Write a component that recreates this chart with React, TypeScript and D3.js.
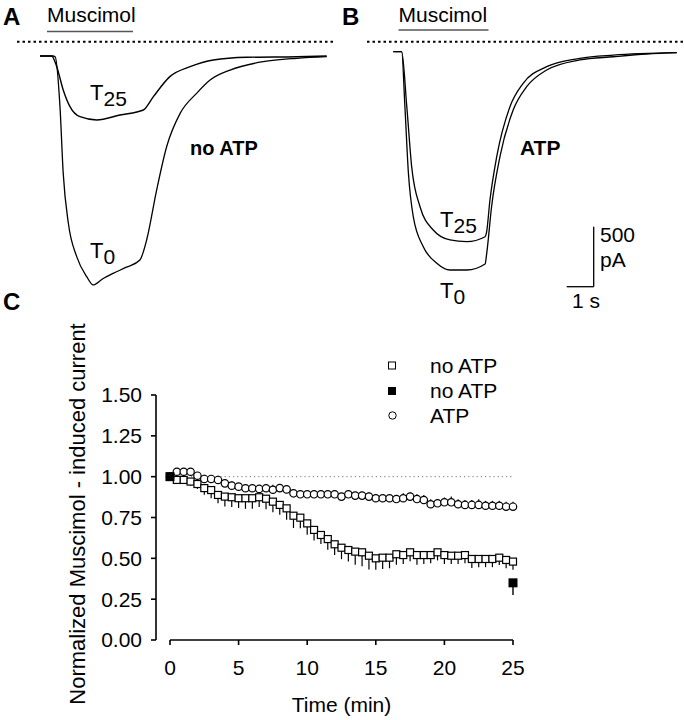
import * as d3 from 'd3';

const FONT = '"Liberation Sans", Arial, Helvetica, sans-serif';
const W = 684;
const H = 720;

// ---- panel A / B current traces (time in s, current in pA) ----
const aT0Time = [0, 0.48, 0.56, 0.74, 0.86, 1.05, 1.36, 1.73, 1.97, 2.3, 2.71, 3.2, 3.7, 3.95, 4.32, 4.69, 5.19, 5.8, 6.3, 7.04, 8.27, 9.51, 10.62];
const aT0Current = [0, 0, -6, -422, -978, -1394, -1672, -1839, -1908, -1860, -1811, -1760, -1700, -1533, -1117, -756, -478, -311, -200, -117, -47, -19, -6];
const aT25Time = [0, 0.43, 0.62, 0.86, 1.11, 1.48, 2.1, 2.96, 3.83, 4.2, 4.81, 5.56, 6.42, 7.66, 9.51, 10.62];
const aT25Current = [0, 0, -89, -283, -422, -506, -533, -492, -450, -339, -172, -89, -33, -11, -6, 0];

const bT0Time = [0, 0.31, 0.43, 0.56, 0.74, 1.11, 1.61, 2.1, 2.72, 3.4, 3.46, 3.64, 3.95, 4.44, 4.94, 5.68, 6.91, 8.15, 9.39, 10.5];
const bT0Current = [0, 0, -458, -1013, -1375, -1625, -1763, -1819, -1819, -1769, -1680, -1292, -875, -486, -292, -153, -69, -42, -19, -8];
const bT25Time = [0, 0.31, 0.5, 0.68, 0.99, 1.48, 2.1, 2.72, 3.4, 3.45, 3.58, 3.83, 4.32, 4.81, 5.68, 6.91, 8.15, 10.5];
const bT25Current = [0, 0, -458, -958, -1292, -1486, -1569, -1583, -1542, -1510, -1236, -875, -458, -263, -125, -55, -28, -8];

// ---- panel C (normalized current vs time) ----
const timeMin = [0, 0.5, 1, 1.5, 2, 2.5, 3, 3.5, 4, 4.5, 5, 5.5, 6, 6.5, 7, 7.5, 8, 8.5, 9, 9.5, 10, 10.5, 11, 11.5, 12, 12.5, 13, 13.5, 14, 14.5, 15, 15.5, 16, 16.5, 17, 17.5, 18, 18.5, 19, 19.5, 20, 20.5, 21, 21.5, 22, 22.5, 23, 23.5, 24, 24.5, 25];
const noAtpMean = [1.0, 0.98, 0.98, 0.97, 0.955, 0.93, 0.918, 0.888, 0.878, 0.874, 0.868, 0.868, 0.868, 0.874, 0.865, 0.847, 0.827, 0.806, 0.761, 0.749, 0.714, 0.674, 0.643, 0.618, 0.586, 0.565, 0.551, 0.541, 0.537, 0.516, 0.5, 0.504, 0.504, 0.525, 0.52, 0.537, 0.52, 0.52, 0.52, 0.537, 0.52, 0.516, 0.516, 0.52, 0.496, 0.496, 0.496, 0.496, 0.504, 0.49, 0.48];
const noAtpSem = [0, 0.02, 0.02, 0.025, 0.03, 0.04, 0.05, 0.05, 0.06, 0.06, 0.06, 0.065, 0.065, 0.06, 0.065, 0.065, 0.06, 0.07, 0.075, 0.065, 0.07, 0.065, 0.055, 0.065, 0.065, 0.07, 0.07, 0.08, 0.085, 0.085, 0.07, 0.07, 0.065, 0.065, 0.055, 0.055, 0.06, 0.055, 0.05, 0.05, 0.055, 0.05, 0.05, 0.05, 0.055, 0.05, 0.05, 0.05, 0.045, 0.05, 0.05];
const atpMean = [1.0, 1.03, 1.03, 1.03, 1.006, 0.986, 0.986, 0.98, 0.959, 0.945, 0.939, 0.929, 0.929, 0.925, 0.929, 0.92, 0.93, 0.922, 0.898, 0.892, 0.892, 0.892, 0.892, 0.892, 0.892, 0.878, 0.892, 0.884, 0.884, 0.878, 0.868, 0.868, 0.868, 0.863, 0.868, 0.878, 0.863, 0.857, 0.831, 0.837, 0.843, 0.843, 0.831, 0.827, 0.827, 0.827, 0.822, 0.822, 0.822, 0.816, 0.816];
const atpSem = [0, 0.02, 0.02, 0.02, 0.02, 0.025, 0.02, 0.025, 0.02, 0.025, 0.02, 0.025, 0.02, 0.02, 0.025, 0.03, 0.025, 0.02, 0.025, 0.02, 0.02, 0.025, 0.02, 0.02, 0.025, 0.02, 0.025, 0.02, 0.02, 0.025, 0.025, 0.02, 0.02, 0.025, 0.03, 0.025, 0.03, 0.03, 0.03, 0.025, 0.03, 0.035, 0.03, 0.03, 0.03, 0.035, 0.03, 0.03, 0.03, 0.03, 0.03];
const filledTime = [0, 25];
const filledMean = [1.0, 0.35];
const filledSem = [0, 0.075];

const yTickValues = [0, 0.25, 0.5, 0.75, 1.0, 1.25, 1.5];
const xTickValues = [0, 5, 10, 15, 20, 25];
const legendLabels = ['no ATP', 'no ATP', 'ATP'];

// trace scales: 27 px per s, 60 px per 500 pA
const xA = d3.scaleLinear().domain([0, 1]).range([40, 67]);
const yA = d3.scaleLinear().domain([0, -500]).range([56, 116]);
const xB = d3.scaleLinear().domain([0, 1]).range([393.3, 420.3]);
const yB = d3.scaleLinear().domain([0, -500]).range([51.7, 111.7]);

const x = d3.scaleLinear().domain([0, 25]).range([170, 513]);
const y = d3.scaleLinear().domain([0, 1.5]).range([640, 395]);
const Y_AXIS_X = 156;

const tracePath = (xs: d3.ScaleLinear<number, number>, ys: d3.ScaleLinear<number, number>, t: number[], c: number[]) =>
  d3
    .line<number>()
    .x((_, i) => xs(t[i]))
    .y((d) => ys(d))
    .curve(d3.curveMonotoneX)(c) ?? '';

const TLabel = ({ x0, y0, sub }: { x0: number; y0: number; sub: string }) => (
  <text x={x0} y={y0} fontSize={22} fontFamily={FONT}>
    T
    <tspan dy={6} fontSize={21}>
      {sub}
    </tspan>
  </text>
);

export default function App() {
  const sq = 7;
  const big = 9;
  const r = 3.7;

  return (
    <svg width={W} height={H} style={{ position: 'absolute', left: 0, top: 0, background: '#fff' }}>
      <rect width={W} height={H} fill="#fff" />

      {/* ---------- panel A ---------- */}
      <text x={3} y={25} fontSize={24} fontWeight="bold" fontFamily={FONT}>A</text>
      <text x={47} y={22} fontSize={21} fontFamily={FONT}>Muscimol</text>
      <line x1={47} x2={133} y1={31.5} y2={31.5} stroke="#555" strokeWidth={1.5} />
      <line x1={17} x2={334} y1={41.7} y2={41.7} stroke="#000" strokeWidth={2} strokeDasharray="2.5 3" />
      <path d={tracePath(xA, yA, aT25Time, aT25Current)} fill="none" stroke="#000" strokeWidth={1.4} />
      <path d={tracePath(xA, yA, aT0Time, aT0Current)} fill="none" stroke="#000" strokeWidth={1.3} />
      <TLabel x0={90} y0={100} sub="25" />
      <TLabel x0={90} y0={258} sub="0" />
      <text x={190} y={155} fontSize={20} fontWeight="bold" fontFamily={FONT}>no ATP</text>

      {/* ---------- panel B ---------- */}
      <text x={342} y={25} fontSize={24} fontWeight="bold" fontFamily={FONT}>B</text>
      <text x={398.5} y={22} fontSize={21} fontFamily={FONT}>Muscimol</text>
      <line x1={398.5} x2={488.5} y1={30} y2={30} stroke="#555" strokeWidth={1.5} />
      <line x1={367} x2={684} y1={41.7} y2={41.7} stroke="#000" strokeWidth={2} strokeDasharray="2.5 3" />
      <path d={tracePath(xB, yB, bT25Time, bT25Current)} fill="none" stroke="#000" strokeWidth={1.3} />
      <path d={tracePath(xB, yB, bT0Time, bT0Current)} fill="none" stroke="#000" strokeWidth={1.3} />
      <TLabel x0={440} y0={227} sub="25" />
      <TLabel x0={440} y0={298} sub="0" />
      <text x={520} y={155} fontSize={21} fontWeight="bold" fontFamily={FONT}>ATP</text>

      {/* scale bar */}
      <g stroke="#000" strokeWidth={1.3} fill="none">
        <line x1={593.7} x2={593.7} y1={286.7 - (yB(-500) - yB(0))} y2={286.7} />
        <line x1={593.7 - (xB(1) - xB(0))} x2={593.7} y1={286.7} y2={286.7} />
      </g>
      <text x={600} y={241.5} fontSize={21} fontFamily={FONT}>500</text>
      <text x={600} y={267} fontSize={21} fontFamily={FONT}>pA</text>
      <text x={572} y={308} fontSize={21} fontFamily={FONT}>1 s</text>

      {/* ---------- panel C ---------- */}
      <text x={3} y={310} fontSize={24} fontWeight="bold" fontFamily={FONT}>C</text>

      {/* axes */}
      <g stroke="#000" strokeWidth={1.6}>
        <line x1={Y_AXIS_X} x2={Y_AXIS_X} y1={y(1.5)} y2={y(0)} />
        {yTickValues.map((v) => (
          <line key={v} x1={Y_AXIS_X - 5} x2={Y_AXIS_X} y1={y(v)} y2={y(v)} />
        ))}
        <line x1={x(0)} x2={x(25)} y1={y(0)} y2={y(0)} />
        {xTickValues.map((v) => (
          <line key={v} x1={x(v)} x2={x(v)} y1={y(0)} y2={y(0) + 5} />
        ))}
      </g>
      {yTickValues.map((v) => (
        <text key={v} x={Y_AXIS_X - 14} y={y(v)} dy="0.35em" textAnchor="end" fontSize={21} fontFamily={FONT}>
          {d3.format('.2f')(v)}
        </text>
      ))}
      {xTickValues.map((v) => (
        <text key={v} x={x(v)} y={675} textAnchor="middle" fontSize={21} fontFamily={FONT}>
          {v}
        </text>
      ))}
      <text x={(x(0) + x(25)) / 2} y={712} textAnchor="middle" fontSize={21} fontFamily={FONT}>Time (min)</text>
      <text transform={`translate(85, 514) rotate(-90)`} textAnchor="middle" fontSize={22} fontFamily={FONT}>
        Normalized Muscimol - induced current
      </text>

      {/* reference line at 1.0 */}
      <line x1={x(0)} x2={x(25)} y1={y(1)} y2={y(1)} stroke="#777" strokeWidth={1} strokeDasharray="1.2 3" />

      {/* no ATP open squares */}
      <g stroke="#000" strokeWidth={1.2}>
        {timeMin.map((t, i) => (
          <line key={i} x1={x(t)} x2={x(t)} y1={y(noAtpMean[i])} y2={y(noAtpMean[i] - noAtpSem[i])} />
        ))}
      </g>
      <g stroke="#000" strokeWidth={1.2} fill="#fff">
        {timeMin.map((t, i) => (
          <rect key={i} x={x(t) - sq / 2} y={y(noAtpMean[i]) - sq / 2} width={sq} height={sq} />
        ))}
      </g>

      {/* ATP open circles */}
      <g stroke="#000" strokeWidth={1.2}>
        {timeMin.map((t, i) => (
          <line key={i} x1={x(t)} x2={x(t)} y1={y(atpMean[i])} y2={y(atpMean[i] + atpSem[i])} />
        ))}
      </g>
      <g stroke="#000" strokeWidth={1.2} fill="#fff">
        {timeMin.map((t, i) => (
          <circle key={i} cx={x(t)} cy={y(atpMean[i])} r={r} />
        ))}
      </g>

      {/* no ATP filled squares */}
      <g stroke="#000" strokeWidth={1.4}>
        {filledTime.map((t, i) => (
          <line key={i} x1={x(t)} x2={x(t)} y1={y(filledMean[i])} y2={y(filledMean[i] - filledSem[i])} />
        ))}
      </g>
      {filledTime.map((t, i) => (
        <rect key={i} x={x(t) - big / 2} y={y(filledMean[i]) - big / 2} width={big} height={big} fill="#000" />
      ))}

      {/* legend */}
      <g fontSize={21} fontFamily={FONT}>
        <rect x={392 - 3.5} y={365.5 - 3.5} width={7} height={7} fill="#fff" stroke="#000" strokeWidth={1} />
        <rect x={392 - 4} y={391 - 4} width={8} height={8} fill="#000" />
        <circle cx={392.5} cy={415.5} r={3.7} fill="#fff" stroke="#000" strokeWidth={1} />
        {legendLabels.map((l, i) => (
          <text key={i} x={430} y={373 + i * 25}>
            {l}
          </text>
        ))}
      </g>
    </svg>
  );
}
